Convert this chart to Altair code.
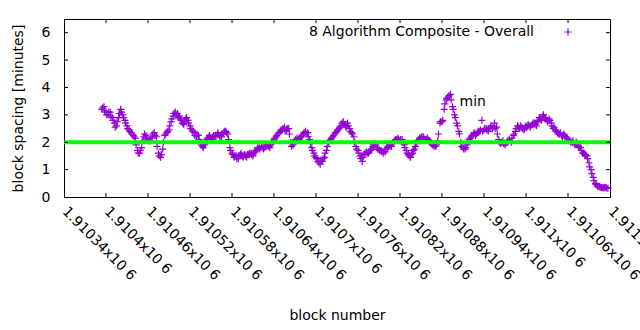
import altair as alt
import pandas as pd

# ---- data (two interleaved passes through the point cloud) ----
spacing_a = [
    3.2, 3.3, 3.1, 3.0, 3.1, 2.9, 2.7, 2.6, 2.9, 3.2,
    3.0, 2.8, 2.6, 2.45, 2.35, 2.25, 2.15, 1.7, 1.6, 1.8,
    2.2, 2.25, 2.1, 2.05, 2.2, 2.35, 2.2, 1.6, 1.45, 1.75,
    2.25, 2.35, 2.45, 2.75, 2.95, 3.1, 3.05, 2.95, 2.8, 2.65,
    2.85, 2.8, 2.6, 2.45, 2.35, 2.2, 2.25, 2.0, 1.85, 1.9,
    2.1, 2.2, 2.15, 2.2, 2.25, 2.3, 2.25, 2.2, 2.35, 2.4, 2.3,
    1.8, 1.6, 1.45, 1.5, 1.4, 1.55, 1.5, 1.55, 1.45, 1.55,
    1.6, 1.5, 1.7, 1.75, 1.8, 1.85, 1.75, 1.85, 1.9, 1.8,
    1.95, 2.1, 2.2, 2.3, 2.4, 2.45, 2.55, 2.45, 2.5, 2.0,
    1.9, 2.05, 2.15, 2.1, 2.2, 2.3, 2.4, 2.35, 2.1, 1.8,
    1.6, 1.45, 1.3, 1.2, 1.3, 1.45, 1.7, 2.0, 2.1, 2.2,
    2.3, 2.4, 2.5, 2.6, 2.75, 2.6, 2.7, 2.5, 2.35, 2.2,
    1.85, 1.7, 1.5, 1.3, 1.55, 1.65, 1.6, 1.7, 1.85, 1.95,
    1.8, 1.75, 1.7, 1.6, 1.65, 1.8, 1.9, 1.85, 2.0, 2.1, 2.15,
    2.05, 2.1, 1.9, 1.7, 1.55, 1.45, 1.6, 1.75, 1.95, 2.1,
    2.15, 2.2, 2.1, 2.15, 2.05, 1.95, 1.9, 1.85, 2.05, 2.7,
    2.75, 3.2, 3.55, 3.65, 3.75, 3.3, 3.0, 2.7, 2.4, 2.0,
    1.8, 1.75, 1.9, 2.1, 2.2, 2.3, 2.25, 2.35, 2.4, 2.8,
    2.45, 2.5, 2.4, 2.55, 2.5, 2.7, 2.55, 2.1, 1.95, 2.05,
    1.9, 2.0, 2.1, 2.0, 2.25, 2.4, 2.6, 2.5, 2.55, 2.45,
    2.6, 2.65, 2.55, 2.65, 2.7, 2.6, 2.8, 2.85, 2.95, 2.9, 2.8,
    2.85, 2.7, 2.5, 2.45, 2.35, 2.3, 2.25, 2.3, 2.2, 2.1,
    2.05, 2.0, 1.95, 2.0, 1.85, 1.8, 1.6, 1.55, 1.5, 1.25,
    1.0, 0.72, 0.5, 0.4, 0.38, 0.35, 0.33, 0.35, 0.32,
]
spacing_b = [
    3.25, 3.15, 3.0, 3.1, 2.95, 2.8, 2.55, 2.75, 3.05, 3.1,
    2.9, 2.7, 2.5, 2.4, 2.3, 2.2, 1.9, 1.6, 1.7, 2.05,
    2.3, 2.15, 2.05, 2.15, 2.3, 2.25, 1.85, 1.5, 1.55, 2.0,
    2.3, 2.4, 2.6, 2.85, 3.05, 3.0, 2.9, 2.85, 2.7, 2.75,
    2.9, 2.7, 2.5, 2.4, 2.25, 2.3, 2.1, 1.9, 1.8, 2.0,
    2.15, 2.25, 2.1, 2.25, 2.2, 2.35, 2.2, 2.3, 2.4, 2.35, 2.1,
    1.7, 1.55, 1.5, 1.4, 1.5, 1.6, 1.45, 1.5, 1.55, 1.6,
    1.55, 1.6, 1.65, 1.8, 1.75, 1.8, 1.8, 1.9, 1.85, 1.9,
    2.0, 2.15, 2.25, 2.35, 2.45, 2.5, 2.4, 2.5, 2.3, 1.85,
    1.95, 2.1, 2.1, 2.15, 2.25, 2.35, 2.3, 2.2, 1.95, 1.7,
    1.5, 1.4, 1.25, 1.35, 1.4, 1.6, 1.85, 2.05, 2.15, 2.25,
    2.35, 2.45, 2.55, 2.7, 2.65, 2.55, 2.6, 2.4, 2.3, 2.0,
    1.75, 1.6, 1.4, 1.45, 1.6, 1.6, 1.65, 1.75, 1.9, 1.9,
    1.75, 1.7, 1.65, 1.65, 1.75, 1.85, 1.85, 1.95, 2.05, 2.1, 2.1,
    2.1, 2.0, 1.8, 1.6, 1.5, 1.55, 1.7, 1.85, 2.05, 2.15,
    2.2, 2.15, 2.1, 2.1, 2.0, 1.9, 1.85, 1.9, 2.3, 2.75,
    2.8, 3.4, 3.6, 3.7, 3.55, 3.2, 2.9, 2.6, 2.3, 1.85,
    1.75, 1.8, 2.0, 2.15, 2.25, 2.35, 2.3, 2.4, 2.45, 2.4,
    2.5, 2.45, 2.5, 2.6, 2.55, 2.5, 2.3, 2.0, 2.0, 1.95,
    1.95, 2.05, 2.05, 2.15, 2.3, 2.5, 2.55, 2.6, 2.5, 2.5,
    2.55, 2.6, 2.6, 2.7, 2.65, 2.75, 2.9, 2.8, 3.0, 2.85, 2.75,
    2.8, 2.6, 2.55, 2.4, 2.3, 2.35, 2.2, 2.25, 2.15, 2.05,
    2.0, 2.05, 1.9, 1.95, 1.8, 1.7, 1.6, 1.55, 1.4, 1.1,
    0.85, 0.6, 0.45, 0.38, 0.36, 0.34, 0.36, 0.33,
]
first_block = 1910394
block_step = 3
blocks_a = [first_block + block_step * k for k in range(len(spacing_a))]
blocks_b = [first_block + 1 + block_step * k for k in range(len(spacing_b))]

x_ticks = [1910340, 1910400, 1910460, 1910520, 1910580, 1910640, 1910700,
           1910760, 1910820, 1910880, 1910940, 1911000, 1911060, 1911120]
y_ticks = [0, 1, 2, 3, 4, 5, 6]
x_domain = [1910340, 1911120]
y_domain = [0, 6.5]
target_spacing = [2.0]
legend_label = ["8 Algorithm Composite - Overall"]
note_text = ["min"]
note_block = [1910905]
note_value = [3.48]

# ---- styling ----
W, H = 546, 178
FONT = "DejaVu Sans"
FS = 14
PURPLE = "#9400d3"
GREEN = "#00ff00"
PLUS = "M-1,0L1,0M0,-1L0,1"
TICK = 4

df = pd.DataFrame({"block": blocks_a + blocks_b, "spacing": spacing_a + spacing_b})
xs = alt.Scale(domain=x_domain, nice=False, zero=False)
ys = alt.Scale(domain=y_domain, nice=False, zero=False)

x_axis = alt.Axis(
    values=x_ticks,
    labelExpr="format(datum.value / 1000000, '.5~f') + 'x10 6'",
    labelAngle=45, labelAlign="left", labelBaseline="middle",
    labelPadding=12, ticks=False, tickSize=0, domain=False, grid=False,
    labelFlush=False, labelOverlap=False, labelBound=False,
    labelFont=FONT, labelFontSize=FS, labelColor="black",
    title="block number", titleFont=FONT, titleFontSize=FS,
    titleFontWeight="normal", titleColor="black",
    titleX=W / 2, titleY=118, titleAlign="center", titleBaseline="middle",
)
y_axis = alt.Axis(
    values=y_ticks, format="d",
    labelPadding=14, ticks=False, tickSize=0, domain=False, grid=False,
    labelFlush=False, labelOverlap=False,
    labelFont=FONT, labelFontSize=FS, labelColor="black",
    title="block spacing [minutes]", titleFont=FONT, titleFontSize=FS,
    titleFontWeight="normal", titleColor="black",
    titleX=-46, titleY=H / 2, titleAngle=-90, titleAlign="center",
    titleBaseline="middle",
)

points = alt.Chart(df).mark_point(
    shape=PLUS, size=49, filled=False, color=PURPLE, strokeWidth=1.2, opacity=1
).encode(
    x=alt.X("block:Q", scale=xs, axis=x_axis),
    y=alt.Y("spacing:Q", scale=ys, axis=y_axis),
)

green = alt.Chart(pd.DataFrame({"t": target_spacing})).mark_rule(
    color=GREEN, strokeWidth=4
).encode(
    y=alt.Y("t:Q", scale=ys, axis=y_axis),
    x=alt.value(0), x2=alt.value(W),
)

xt = pd.DataFrame({"v": x_ticks[1:-1]})
yt = pd.DataFrame({"v": y_ticks[1:]})
tick_rule = dict(color="black", strokeWidth=1)
xb = alt.Chart(xt).mark_rule(**tick_rule).encode(
    x=alt.X("v:Q", scale=xs, axis=x_axis), y=alt.value(H), y2=alt.value(H - TICK))
xtop = alt.Chart(xt).mark_rule(**tick_rule).encode(
    x=alt.X("v:Q", scale=xs, axis=x_axis), y=alt.value(0), y2=alt.value(TICK))
yl = alt.Chart(yt).mark_rule(**tick_rule).encode(
    y=alt.Y("v:Q", scale=ys, axis=y_axis), x=alt.value(0), x2=alt.value(TICK))
yr = alt.Chart(yt).mark_rule(**tick_rule).encode(
    y=alt.Y("v:Q", scale=ys, axis=y_axis), x=alt.value(W - TICK), x2=alt.value(W))

leg_text = alt.Chart(pd.DataFrame({"label": legend_label})).mark_text(
    align="right", baseline="middle", font=FONT, fontSize=FS, color="black"
).encode(text="label:N", x=alt.value(470), y=alt.value(13))
leg_sym = alt.Chart(pd.DataFrame({"label": legend_label})).mark_point(
    shape=PLUS, size=49, filled=False, color=PURPLE, strokeWidth=1.2, opacity=1
).encode(x=alt.value(504), y=alt.value(13))

note = alt.Chart(pd.DataFrame({"b": note_block, "v": note_value, "t": note_text})).mark_text(
    align="left", baseline="middle", font=FONT, fontSize=FS, color="black"
).encode(
    x=alt.X("b:Q", scale=xs, axis=x_axis),
    y=alt.Y("v:Q", scale=ys, axis=y_axis),
    text="t:N",
)

chart = alt.layer(
    points, green, xb, xtop, yl, yr, leg_text, leg_sym, note
).properties(
    width=W, height=H,
    autosize=alt.AutoSizeParams(type="none"),
    padding={"left": 64, "top": 19, "right": 30, "bottom": 133},
).configure(background="white").configure_view(stroke="black", strokeWidth=1)

chart.save("out.html", embed_options={"renderer": "svg", "actions": False})
